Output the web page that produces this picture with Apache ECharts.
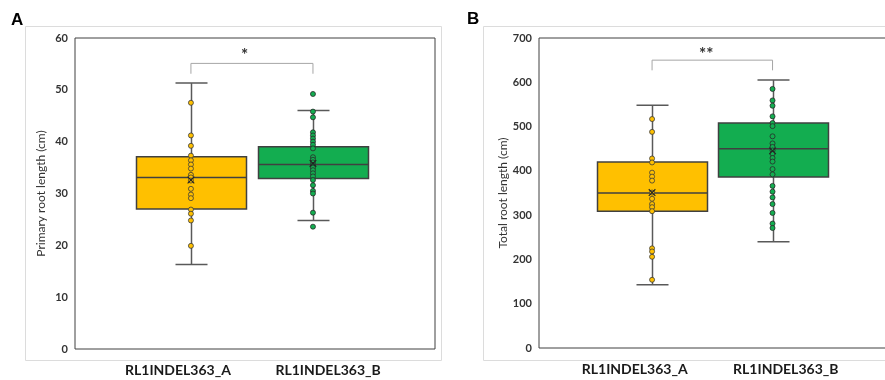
<!DOCTYPE html>
<html><head><meta charset="utf-8">
<script src="https://cdn.jsdelivr.net/npm/echarts@6/dist/echarts.min.js"></script>
<style>html,body{margin:0;padding:0;background:#fff}#c{width:885px;height:380px}</style>
</head><body><div id="c"></div>
<script>
// ---------- data ----------
const categories = ['RL1INDEL363_A', 'RL1INDEL363_B'];
const panelLetters = ['A', 'B'];
const primaryName = 'Primary root length (cm)';
const totalName = 'Total root length (cm)';
// box stats: [min, q1, median, q3, max]
const primaryBoxA = [16.3, 27.0, 33.1, 37.1, 51.3];
const primaryBoxB = [24.8, 32.9, 35.6, 39.0, 46.0];
const primaryMeans = [32.6, 35.8];
const primaryPointsA = [47.5, 41.2, 39.2, 37.3, 36.4, 35.6, 34.8, 33.6, 33.1, 32.5, 30.9, 29.8, 29.1, 26.9, 26.1, 24.8, 19.9];
const primaryPointsB = [49.2, 45.8, 44.7, 41.8, 41.2, 40.6, 40.0, 39.4, 38.7, 37.0, 36.5, 36.0, 35.5, 35.0, 34.5, 33.9, 33.3, 32.6, 31.6, 30.5, 30.0, 26.3, 23.6];
const primaryBracket = [53.1, 55.1];
const primarySig = ['*', 57.3];

const totalBoxA = [143, 309, 350, 420, 548];
const totalBoxB = [240, 386, 450, 508, 605];
const totalMeans = [351, 445];
const totalPointsA = [517, 488, 428, 419, 396, 387, 378, 351, 337, 325, 318, 309, 225, 218, 206, 154];
const totalPointsB = [585, 559, 547, 523, 508, 501, 478, 462, 454, 446, 439, 429, 421, 404, 392, 366, 353, 340, 325, 305, 281, 271];
const totalBracket = [627, 650];
const totalSig = ['**', 672];

const primaryTicks = [0, 60, 10];
const totalTicks = [0, 700, 100];

// ---------- styling ----------
const fills = ['#FFC000', '#13AD50'];
const FONT = 'Lato, "Open Sans", sans-serif';

function boxRender(params, api) {
  const x = api.value(0);
  const pMin = api.coord([x, api.value(1)]);
  const pQ1 = api.coord([x, api.value(2)]);
  const pMed = api.coord([x, api.value(3)]);
  const pQ3 = api.coord([x, api.value(4)]);
  const pMax = api.coord([x, api.value(5)]);
  const cx = Math.round(pMed[0]) + 0.5;
  const hw = 55, cw = 16;
  const fill = fills[params.dataIndex];
  const ws = { stroke: '#595959', lineWidth: 1.5 };
  return { type: 'group', children: [
    { type: 'line', shape: { x1: cx, y1: pMin[1], x2: cx, y2: pMax[1] }, style: ws },
    { type: 'line', shape: { x1: cx - cw, y1: pMax[1], x2: cx + cw, y2: pMax[1] }, style: ws },
    { type: 'line', shape: { x1: cx - cw, y1: pMin[1], x2: cx + cw, y2: pMin[1] }, style: ws },
    { type: 'rect', shape: { x: cx - hw, y: pQ3[1], width: 2 * hw, height: pQ1[1] - pQ3[1] }, style: { fill: fill, stroke: '#404040', lineWidth: 1.5 } },
    { type: 'line', shape: { x1: cx - hw, y1: pMed[1], x2: cx + hw, y2: pMed[1] }, style: { stroke: '#404040', lineWidth: 1.5 } }
  ]};
}
function meanRender(params, api) {
  const p = api.coord([api.value(0), api.value(1)]);
  const s = 3.3;
  const st = { stroke: '#222', lineWidth: 1.1 };
  return { type: 'group', children: [
    { type: 'line', shape: { x1: p[0] - s, y1: p[1] - s, x2: p[0] + s, y2: p[1] + s }, style: st },
    { type: 'line', shape: { x1: p[0] - s, y1: p[1] + s, x2: p[0] + s, y2: p[1] - s }, style: st }
  ]};
}
function makeSigRender(txt) {
  return function (params, api) {
    const p = api.coord([api.value(0), api.value(1)]);
    return { type: 'text', x: p[0], y: p[1] + 4, style: { text: txt, fill: '#333', font: 'bold 17px ' + FONT, align: 'center', verticalAlign: 'middle' } };
  };
}

function panelSeries(gi, boxA, boxB, means, ptsA, ptsB, bracket, sig, sigX) {
  return [
    { type: 'custom', xAxisIndex: gi, yAxisIndex: gi, renderItem: boxRender, z: 2, silent: true,
      encode: { x: 0, y: [1, 2, 3, 4, 5] },
      data: [[1].concat(boxA), [2].concat(boxB)] },
    { type: 'scatter', xAxisIndex: gi, yAxisIndex: gi, z: 5, silent: true, symbolSize: 5,
      itemStyle: { color: fills[0], borderColor: '#3a3a3a', borderWidth: 0.8, opacity: 1 },
      data: ptsA.map(v => [1, v]) },
    { type: 'scatter', xAxisIndex: gi, yAxisIndex: gi, z: 5, silent: true, symbolSize: 5,
      itemStyle: { color: fills[1], borderColor: '#2a2a2a', borderWidth: 0.8, opacity: 1 },
      data: ptsB.map(v => [2, v]) },
    { type: 'custom', xAxisIndex: gi, yAxisIndex: gi, renderItem: meanRender, z: 6, silent: true,
      data: [[1, means[0]], [2, means[1]]] },
    { type: 'line', xAxisIndex: gi, yAxisIndex: gi, z: 2, silent: true, showSymbol: false, symbol: 'none',
      lineStyle: { color: '#a6a6a6', width: 1 },
      data: [[1, bracket[0]], [1, bracket[1]], [2, bracket[1]], [2, bracket[0]]] },
    { type: 'custom', xAxisIndex: gi, yAxisIndex: gi, renderItem: makeSigRender(sig[0]), z: 6, silent: true,
      data: [[sigX, sig[1]]] }
  ];
}

function xAxisFor(gi, min, max, labelPos) {
  return { gridIndex: gi, type: 'value', min: min, max: max,
    axisLine: { show: false }, axisTick: { show: false }, splitLine: { show: false },
    axisLabel: { customValues: labelPos,
      formatter: function (v) { return Math.abs(v - labelPos[0]) < 0.01 ? categories[0] : categories[1]; },
      fontFamily: FONT, fontWeight: 'bold', fontSize: 14, color: '#1a1a1a', margin: 14 } };
}
function yAxisFor(gi, ticks, name) {
  return { gridIndex: gi, type: 'value', min: ticks[0], max: ticks[1], interval: ticks[2],
    axisLine: { show: false }, axisTick: { show: false }, splitLine: { show: false },
    axisLabel: { fontFamily: FONT, fontWeight: 'bold', fontSize: 11, color: '#333', margin: 7 },
    name: name, nameLocation: 'middle', nameGap: 28,
    nameTextStyle: { fontFamily: FONT, fontSize: 12, color: '#333' } };
}

const chart = echarts.init(document.getElementById('c'), null, { renderer: 'canvas' });
chart.setOption({
  animation: false,
  backgroundColor: '#fff',
  grid: [
    { left: 75, top: 38, width: 360, height: 311, show: true, borderColor: '#404040', borderWidth: 1, outerBoundsMode: 'none' },
    { left: 539, top: 38, width: 348, height: 310, show: true, borderColor: '#404040', borderWidth: 1, outerBoundsMode: 'none' }
  ],
  xAxis: [ xAxisFor(0, 0.05, 3.0, [0.894, 2.124]), xAxisFor(1, 0.0615, 2.95, [0.856, 2.11]) ],
  yAxis: [ yAxisFor(0, primaryTicks, primaryName), yAxisFor(1, totalTicks, totalName) ],
  graphic: [
    { type: 'rect', z: -1, shape: { x: 25.5, y: 26.5, width: 416, height: 334 }, style: { fill: 'none', stroke: '#dcdcdc', lineWidth: 1 } },
    { type: 'rect', z: -1, shape: { x: 483.5, y: 26.5, width: 420, height: 334 }, style: { fill: 'none', stroke: '#dcdcdc', lineWidth: 1 } },
    { type: 'text', x: 11, y: 12, style: { text: panelLetters[0], font: 'bold 17px "Liberation Sans", Arial, sans-serif', fill: '#000' } },
    { type: 'text', x: 467, y: 11, style: { text: panelLetters[1], font: 'bold 17px "Liberation Sans", Arial, sans-serif', fill: '#000' } }
  ],
  series: [].concat(
    panelSeries(0, primaryBoxA, primaryBoxB, primaryMeans, primaryPointsA, primaryPointsB, primaryBracket, primarySig, 1.44),
    panelSeries(1, totalBoxA, totalBoxB, totalMeans, totalPointsA, totalPointsB, totalBracket, totalSig, 1.45)
  )
});
</script></body></html>
